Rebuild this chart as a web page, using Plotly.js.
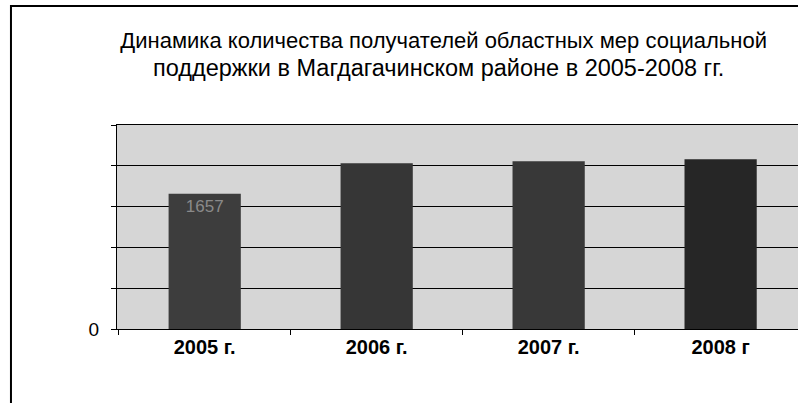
<!DOCTYPE html>
<html>
<head>
<meta charset="utf-8">
<script src="https://cdn.plot.ly/plotly-3.0.1.min.js"></script>
<style>
html,body{margin:0;padding:0;background:#fff;}
#chart{width:798px;height:403px;}
</style>
</head>
<body>
<div id="chart"></div>
<script>
const categories = ['2005 г.', '2006 г.', '2007 г.', '2008 г'];
const recipients = [1657, 2030, 2055, 2080];
const barLabels = ['1657', '', '', ''];
const barColors = ['#3d3d3d', '#363636', '#383838', '#262626'];
const yTickVals = [0, 500, 1000, 1500, 2000, 2500];
const yTickText = ['0', '', '', '', '', ''];
const titleLine1 = 'Динамика количества получателей областных мер социальной';
const titleLine2 = 'поддержки в Магдагачинском районе в 2005-2008 гг.';

const trace = {
  type: 'bar',
  x: categories,
  y: recipients,
  text: barLabels,
  textposition: 'inside',
  insidetextanchor: 'end',
  textangle: 0,
  textfont: {family: 'Liberation Sans, Arial, sans-serif', size: 17, color: '#8a8a8a'},
  marker: {color: barColors, line: {width: 0}},
  hoverinfo: 'none'
};

const layout = {
  width: 798,
  height: 403,
  margin: {l: 117, r: 0, t: 125, b: 74},
  paper_bgcolor: '#ffffff',
  plot_bgcolor: '#d6d6d6',
  showlegend: false,
  bargap: 0.58,
  font: {family: 'Liberation Sans, Arial, sans-serif', color: '#000'},
  title: {
    text: titleLine1,
    font: {family: 'Liberation Sans, Arial, sans-serif', size: 22, color: '#000'},
    xref: 'container', yref: 'container',
    x: 0.556, xanchor: 'center',
    y: 0.9007, yanchor: 'middle'
  },
  annotations: [{
    text: titleLine2,
    xref: 'paper', yref: 'paper',
    x: 0.472, xanchor: 'center',
    y: 1.279, yanchor: 'middle',
    showarrow: false,
    font: {family: 'Liberation Sans, Arial, sans-serif', size: 23.5, color: '#000'}
  }],
  xaxis: {
    type: 'category',
    range: [-0.51, 3.45],
    showline: true, linecolor: '#000', linewidth: 1, mirror: true,
    ticks: 'outside', ticklen: 5, tickcolor: '#000', tickson: 'boundaries',
    tickfont: {family: 'Liberation Sans, Arial, sans-serif', size: 20, color: '#000', weight: 'bold'},
    showgrid: false,
    fixedrange: true
  },
  yaxis: {
    range: [0, 2500],
    tickvals: yTickVals,
    ticktext: yTickText,
    showline: true, linecolor: '#000', linewidth: 1,
    ticks: 'outside', ticklen: 5, tickcolor: '#000',
    showgrid: true, gridcolor: '#000', gridwidth: 1,
    zeroline: false,
    tickfont: {family: 'Liberation Sans, Arial, sans-serif', size: 19, color: '#000'},
    ticklabelstandoff: 8,
    fixedrange: true
  },
  shapes: [{
    type: 'path',
    xref: 'paper', yref: 'paper',
    path: 'M -0.1557 -0.4 L -0.1557 1.583 L 1.2 1.583',
    line: {color: '#000', width: 2}
  }]
};

Plotly.newPlot('chart', [trace], layout, {staticPlot: true, displayModeBar: false});
</script>
</body>
</html>
